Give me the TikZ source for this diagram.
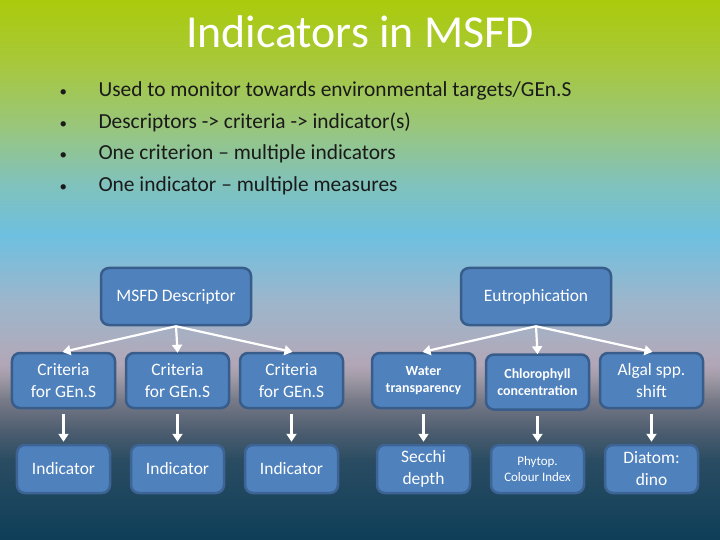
\documentclass[tikz,border=0pt]{standalone}
\usepackage{fontspec}
\setmainfont{Carlito}
\usetikzlibrary{arrows.meta,calc,positioning}

\definecolor{boxfill}{HTML}{4F81BD}
\definecolor{boxline}{HTML}{385D8A}
\definecolor{bullettext}{HTML}{1A1A1A}

\tikzset{
  box/.style={draw=boxline, line width=2.5bp, fill=boxfill, rounded corners=8bp,
    text=white, align=center, inner sep=2bp, font=\fontsize{17.5}{22}\selectfont},
  topbox/.style={box, minimum width=150bp, minimum height=57bp},
  critbox/.style={box, minimum width=103bp, minimum height=55bp},
  indbox/.style={box, draw=boxline!80!boxfill, minimum width=93bp, minimum height=48bp},
  smallbold/.style={font=\fontsize{14}{17.5}\selectfont\bfseries},
  smalltext/.style={font=\fontsize{13}{16}\selectfont},
  arr/.style={draw=white, line width=2.2bp, -{Triangle[width=10bp,length=8bp]}},
  bulletline/.style={anchor=base west, text=bullettext, font=\fontsize{21.5}{24}\selectfont},
  bulletdot/.style={anchor=base west, text=bullettext, font=\fontsize{15}{18}\selectfont}
}

\begin{document}
\begin{tikzpicture}[x=1bp, y=-1bp]

\useasboundingbox (0,0) rectangle (720,540);

% background
\foreach \ya/\ca/\yb/\cb in {0/AACB0B/60/A8C838, 60/A8C838/130/98C680,
    130/98C680/180/82C2B8, 180/82C2B8/235/6EC0E0, 235/6EC0E0/300/9CB6CC,
    300/9CB6CC/340/AAAEC0, 340/AAAEC0/365/B2A6B6, 365/B2A6B6/378/A09AA6,
    378/A09AA6/400/787A88, 400/787A88/430/4E5E70, 430/4E5E70/460/2A4C62,
    460/2A4C62/540/0E3E58} {
  \definecolor{ctop}{HTML}{\ca}
  \definecolor{cbot}{HTML}{\cb}
  \shade[top color=ctop, bottom color=cbot] (0,\ya-0.5) rectangle (720,\yb+0.5);
}

\node[text=white, font=\fontsize{46}{50}\selectfont, anchor=base] (title) at (360,48) {Indicators in MSFD};

\foreach \n/\y/\t in {1/97/{Used to monitor towards environmental targets/GEn.S},
    2/129/{Descriptors -> criteria -> indicator(s)},
    3/160/{One criterion -- multiple indicators},
    4/192/{One indicator -- multiple measures}} {
  \node[bulletdot] (dot\n) at (56,\y) {•};
  \node[bulletline] (line\n) at (95,\y) {\t};
}

% MSFD side
\node[topbox] (desc) at (176,296.5) {MSFD Descriptor};

\node[critbox] (crit1) at (63.5,380.5) {Criteria\\for GEn.S};
\node[critbox] (crit2) at (177.5,380.5) {Criteria\\for GEn.S};
\node[critbox] (crit3) at (291.5,380.5) {Criteria\\for GEn.S};

\node[indbox] (ind1) at (63.5,469) {Indicator};
\node[indbox] (ind2) at (177.5,469) {Indicator};
\node[indbox] (ind3) at (291.5,469) {Indicator};

% Eutrophication side
\node[topbox] (eutro) at (536,296.5) {Eutrophication};

\node[critbox, smallbold] (water) at (423.5,380.5) {Water\\transparency};
\node[critbox, smallbold] (chloro) at (537.5,382) {Chlorophyll\\concentration};
\node[critbox] (algal) at (651.5,380.5) {Algal spp.\\shift};

\node[indbox] (secchi) at (423.5,469) {Secchi\\depth};
\node[indbox, smalltext] (phytop) at (537.5,469) {Phytop.\\Colour Index};
\node[indbox] (diatom) at (651.5,469) {Diatom:\\dino};

% arrows
\foreach \top/\a/\b/\c in {desc/crit1/crit2/crit3, eutro/water/chloro/algal} {
  \draw[arr, shorten >=-1bp] (\top.south) -- (\a.north);
  \draw[arr, shorten >=-1bp] (\top.south) -- (\b.north);
  \draw[arr, shorten >=-1bp] (\top.south) -- (\c.north);
}
\foreach \a/\b in {crit1/ind1, crit2/ind2, crit3/ind3, water/secchi, chloro/phytop, algal/diatom}
  \draw[arr, shorten <=5bp, shorten >=2bp] (\a.south) -- (\b.north);

\end{tikzpicture}
\end{document}
